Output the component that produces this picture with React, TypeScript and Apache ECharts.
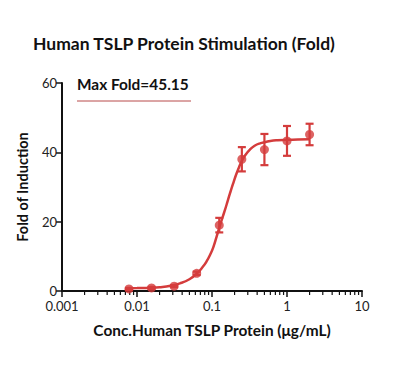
import React, { useEffect, useRef } from "react";
import * as echarts from "echarts";

const concentrations = [0.0078125, 0.015625, 0.03125, 0.0625, 0.125, 0.25, 0.5, 1, 2];
const foldMeans = [0.6, 0.9, 1.4, 5.1, 19.0, 38.0, 40.8, 43.3, 45.15];
const foldErrors = [0.3, 0.3, 0.3, 0.5, 2.1, 3.5, 4.5, 4.3, 3.1];

const curveX = [0.0078125, 0.01, 0.015, 0.02, 0.028, 0.0374, 0.05, 0.0625, 0.075, 0.085, 0.095, 0.104, 0.115, 0.128, 0.14, 0.15, 0.162, 0.174, 0.19, 0.21, 0.23, 0.25, 0.28, 0.32, 0.37, 0.436, 0.52, 0.6, 0.75, 1, 1.4, 2];
const curveY = [0.8, 0.85, 0.95, 1.1, 1.5, 2.2, 3.4, 5.0, 6.9, 8.6, 10.6, 12.6, 15.6, 19.0, 21.6, 23.6, 26.0, 28.2, 30.8, 33.6, 35.8, 37.5, 39.3, 40.8, 41.9, 42.6, 43.0, 43.3, 43.5, 43.6, 43.7, 43.8];

const xTickLabels = ["0.001", "0.01", "0.1", "1", "10"];
const minorTicks = [2, 3, 4, 5, 6, 7, 8, 9].flatMap((m) => [0.001, 0.01, 0.1, 1].map((d) => m * d));

const RED = "#d43c3c";
const FONT = "Lato, 'Open Sans', sans-serif";

export default function App() {
  const ref = useRef<HTMLDivElement>(null);
  useEffect(() => {
    document.body.style.margin = "0";
    if (!ref.current) return;
    const chart = echarts.init(ref.current, null, { renderer: "svg" });
    chart.setOption({
      animation: false,
      backgroundColor: "#ffffff",
      title: {
        text: "Human TSLP Protein Stimulation (Fold)",
        left: 28,
        top: 29,
        textStyle: { fontFamily: FONT, fontWeight: "bold", fontSize: 17.5, color: "#111" },
      },
      graphic: [
        {
          type: "text",
          left: 77,
          top: 76,
          style: { text: "Max Fold=45.15", font: `bold 15.4px ${FONT}`, fill: "#111" },
        },
        {
          type: "line",
          shape: { x1: 77, y1: 101, x2: 191, y2: 101 },
          style: { stroke: "#b84a4a", lineWidth: 1 },
        },
      ],
      grid: { left: 62, right: 38, top: 83, bottom: 78 },
      xAxis: {
        type: "log",
        logBase: 10,
        min: 0.001,
        max: 10,
        name: "Conc.Human TSLP Protein (μg/mL)",
        nameLocation: "middle",
        nameGap: 31,
        nameTextStyle: { fontFamily: FONT, fontWeight: "bold", fontSize: 15.4, color: "#111" },
        axisLine: { lineStyle: { color: "#111", width: 2 } },
        axisTick: { show: true, length: 6, lineStyle: { color: "#111", width: 1.5 } },
        axisLabel: {
          fontFamily: FONT,
          fontSize: 13,
          color: "#222",
          margin: 8,
          formatter: (v: number) => {
            const i = Math.round(Math.log10(v)) + 3;
            return xTickLabels[i] ?? "";
          },
        },
        splitLine: { show: false },
      },
      yAxis: {
        type: "value",
        min: 0,
        max: 60,
        interval: 20,
        name: "Fold of Induction",
        nameLocation: "middle",
        nameGap: 32,
        nameTextStyle: { fontFamily: FONT, fontWeight: "bold", fontSize: 14.5, color: "#111" },
        axisLine: { show: true, lineStyle: { color: "#111", width: 2 } },
        axisTick: { show: true, length: 6, lineStyle: { color: "#111", width: 1.5 } },
        axisLabel: { fontFamily: FONT, fontSize: 13, color: "#222", margin: 5 },
        splitLine: { show: false },
      },
      series: [
        {
          type: "custom",
          silent: true,
          clip: false,
          data: minorTicks.map((v) => [v, 0]),
          renderItem: (params: any, api: any) => {
            const p = api.coord([api.value(0), 0]);
            return {
              type: "line",
              shape: { x1: p[0], y1: p[1], x2: p[0], y2: p[1] + 4 },
              style: { stroke: "#111", lineWidth: 1.2 },
            };
          },
          z: 1,
        },
        {
          type: "line",
          data: curveX.map((x, i) => [x, curveY[i]]),
          smooth: true,
          showSymbol: false,
          lineStyle: { color: RED, width: 2.5 },
          z: 2,
        },
        {
          type: "custom",
          data: concentrations.map((x, i) => [x, foldMeans[i] - foldErrors[i], foldMeans[i] + foldErrors[i]]),
          renderItem: (params: any, api: any) => {
            const lo = api.coord([api.value(0), api.value(1)]);
            const hi = api.coord([api.value(0), api.value(2)]);
            const w = 4;
            const st = { stroke: RED, lineWidth: 2.2 };
            return {
              type: "group",
              children: [
                { type: "line", shape: { x1: lo[0], y1: lo[1], x2: hi[0], y2: hi[1] }, style: st },
                { type: "line", shape: { x1: lo[0] - w, y1: lo[1], x2: lo[0] + w, y2: lo[1] }, style: st },
                { type: "line", shape: { x1: hi[0] - w, y1: hi[1], x2: hi[0] + w, y2: hi[1] }, style: st },
              ],
            };
          },
          z: 3,
        },
        {
          type: "scatter",
          data: concentrations.map((x, i) => [x, foldMeans[i]]),
          symbol: "circle",
          symbolSize: 9,
          itemStyle: { color: RED },
          z: 4,
        },
      ],
    });
    return () => chart.dispose();
  }, []);
  return <div ref={ref} style={{ width: 400, height: 369 }} />;
}
